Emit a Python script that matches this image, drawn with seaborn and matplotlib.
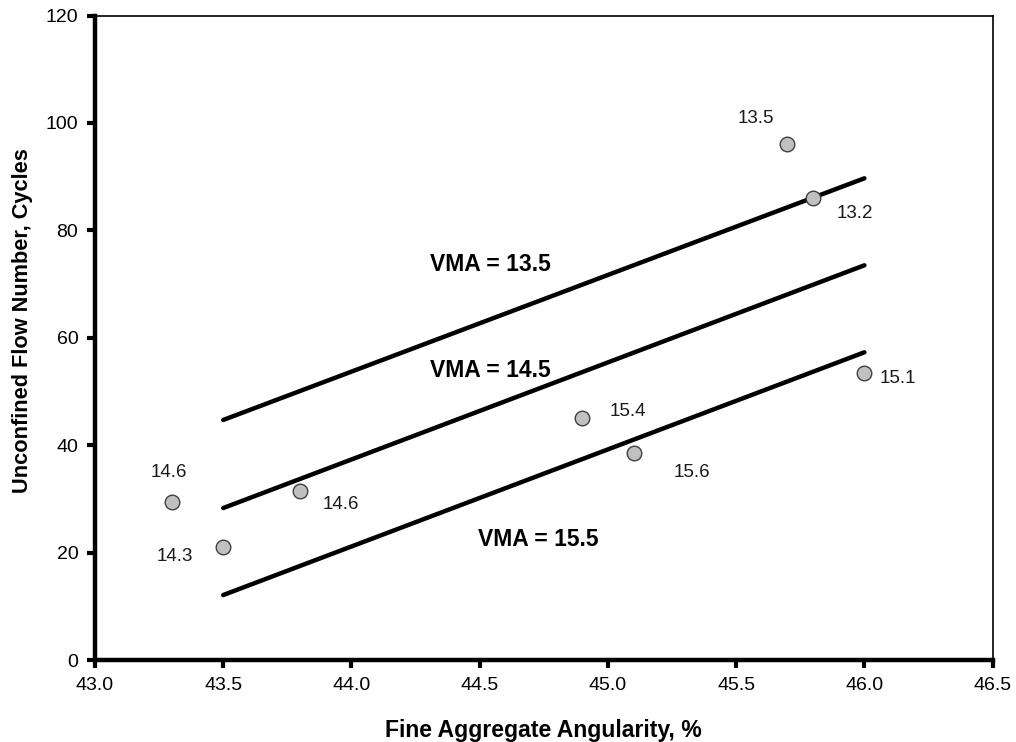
import matplotlib
matplotlib.use("Agg")
import matplotlib.pyplot as plt
import seaborn as sns
import pandas as pd

# Measured mixes: fine aggregate angularity vs. unconfined flow number
faa = [43.3, 43.5, 43.8, 44.9, 45.1, 45.7, 45.8, 46.0]
flow_number = [29.5, 21.0, 31.5, 45.0, 38.5, 96.0, 86.0, 53.5]
vma_labels = ["14.6", "14.3", "14.6", "15.4", "15.6", "13.5", "13.2", "15.1"]
# label offsets (points) relative to each marker
label_dx = [-2, -35, 29.5, 33, 42, -23, 30, 24]
label_dy = [21, -6.5, -9.5, 5, -14, 19, -11, -4]

# Fitted model lines for three VMA levels
line_x = [43.5, 46.0]
vma_levels = ["13.5", "14.5", "15.5"]
line_start = [44.7, 28.3, 12.1]
line_end = [89.7, 73.5, 57.3]
vma_text_x = [44.54, 44.54, 44.73]
vma_text_y = [73.6, 54.0, 22.4]

sns.set_theme(style="ticks")
plt.rcParams["font.family"] = ["Liberation Sans", "DejaVu Sans"]

fig = plt.figure(figsize=(10.16, 7.42), dpi=100)
ax = fig.add_axes([0.0935, 0.1105, 0.8835, 0.8685])

lines_df = pd.concat([
    pd.DataFrame({"x": line_x, "y": [s, e], "vma": lvl})
    for lvl, s, e in zip(vma_levels, line_start, line_end)
])
sns.lineplot(data=lines_df, x="x", y="y", units="vma", estimator=None,
             color="black", linewidth=3.2, ax=ax, legend=False)

pts = pd.DataFrame({"faa": faa, "fn": flow_number})
sns.scatterplot(data=pts, x="faa", y="fn", s=110, color="#c0c0c0",
                edgecolor="#404040", linewidth=1.0, ax=ax, zorder=5, legend=False)

for x, y, lab, dx, dy in zip(faa, flow_number, vma_labels, label_dx, label_dy):
    ax.annotate(lab, (x, y), xytext=(dx, dy), textcoords="offset points",
                ha="center", va="center", fontsize=13.5, color="#1a1a1a")

for lvl, tx, ty in zip(vma_levels, vma_text_x, vma_text_y):
    ax.text(tx, ty, f"VMA = {lvl}", ha="center", va="center",
            fontsize=16.5, fontweight="bold", color="black")

ax.set_xlim(43.0, 46.5)
ax.set_ylim(0, 120)
ax.set_xticks([43.0, 43.5, 44.0, 44.5, 45.0, 45.5, 46.0, 46.5])
ax.set_xticklabels([f"{v:.1f}" for v in ax.get_xticks()])
ax.set_yticks(range(0, 121, 20))

ax.set_xlabel("Fine Aggregate Angularity, %", fontsize=16.6, fontweight="bold",
              labelpad=18, color="black")
ax.set_ylabel("Unconfined Flow Number, Cycles", fontsize=15.7, fontweight="bold",
              color="black")
ax.yaxis.set_label_coords(-0.069, 0.526)

for side in ["left", "bottom"]:
    ax.spines[side].set_linewidth(3.2)
    ax.spines[side].set_color("black")
for side in ["right", "top"]:
    ax.spines[side].set_visible(True)
    ax.spines[side].set_linewidth(1.2)
    ax.spines[side].set_color("black")

ax.tick_params(axis="both", direction="out", length=6, width=3,
               labelsize=14, colors="black", pad=6)

fig.savefig("out.png", dpi=100)
